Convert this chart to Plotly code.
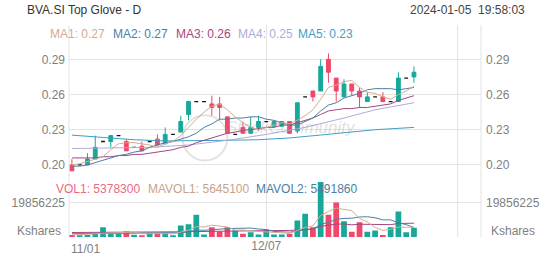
import plotly.graph_objects as go

# ---------------- data ----------------
dates = ["2023-11-01","2023-11-02","2023-11-03","2023-11-06","2023-11-07","2023-11-08","2023-11-09","2023-11-10",
         "2023-11-14","2023-11-15","2023-11-16","2023-11-17","2023-11-20","2023-11-21","2023-11-22","2023-11-23","2023-11-24",
         "2023-11-27","2023-11-28","2023-11-29","2023-11-30","2023-12-01","2023-12-04","2023-12-05","2023-12-06","2023-12-07",
         "2023-12-08","2023-12-11","2023-12-12","2023-12-13","2023-12-14","2023-12-15","2023-12-18","2023-12-19","2023-12-20",
         "2023-12-21","2023-12-22","2023-12-26","2023-12-27","2023-12-28","2023-12-29","2024-01-02","2024-01-03","2024-01-04","2024-01-05"]

opens  = [0.200,0.200,0.200,0.205,0.220,0.220,0.225,0.220,0.215,0.216,0.220,0.222,0.218,0.226,0.228,0.243,0.254,0.254,
          0.252,0.252,0.241,0.226,0.232,0.227,0.232,0.237,0.233,0.233,0.237,0.229,0.258,0.263,0.263,0.290,0.274,0.258,
          0.269,0.263,0.254,0.258,0.258,0.254,0.254,0.274,0.275]
highs  = [0.205,0.200,0.210,0.225,0.220,0.225,0.225,0.222,0.215,0.220,0.220,0.226,0.232,0.226,0.242,0.254,0.254,0.254,
          0.259,0.258,0.241,0.226,0.237,0.241,0.242,0.237,0.237,0.237,0.237,0.253,0.258,0.263,0.290,0.295,0.274,0.273,
          0.269,0.266,0.262,0.258,0.262,0.254,0.279,0.274,0.284]
lows   = [0.195,0.200,0.200,0.205,0.220,0.215,0.225,0.212,0.215,0.212,0.220,0.217,0.218,0.226,0.228,0.238,0.254,0.254,
          0.242,0.238,0.227,0.226,0.227,0.227,0.229,0.237,0.233,0.233,0.227,0.227,0.258,0.254,0.263,0.270,0.254,0.258,
          0.259,0.249,0.254,0.258,0.254,0.254,0.254,0.274,0.270]
closes = [0.195,0.200,0.205,0.215,0.220,0.225,0.225,0.212,0.215,0.212,0.220,0.217,0.226,0.226,0.237,0.254,0.254,0.254,
          0.249,0.249,0.227,0.226,0.227,0.232,0.237,0.237,0.237,0.237,0.227,0.253,0.258,0.258,0.284,0.279,0.263,0.269,
          0.263,0.258,0.258,0.258,0.254,0.254,0.274,0.274,0.279]

ma1 = [0.200,0.201,0.203,0.205,0.207,0.213,0.218,0.219,0.219,0.218,0.217,0.215,0.218,0.220,0.225,0.232,0.239,0.245,
       0.250,0.252,0.247,0.241,0.236,0.232,0.230,0.232,0.234,0.236,0.235,0.238,0.242,0.247,0.256,0.266,0.268,0.271,
       0.272,0.266,0.262,0.261,0.258,0.256,0.260,0.263,0.267]
ma2 = [0.199,0.199,0.200,0.202,0.204,0.206,0.208,0.209,0.211,0.212,0.215,0.217,0.219,0.220,0.222,0.224,0.227,0.232,
       0.235,0.239,0.239,0.240,0.240,0.241,0.241,0.239,0.238,0.236,0.234,0.234,0.237,0.240,0.246,0.251,0.253,0.257,
       0.259,0.261,0.264,0.265,0.265,0.265,0.264,0.265,0.266]
ma3 = [0.206,0.206,0.206,0.206,0.207,0.207,0.208,0.208,0.209,0.209,0.210,0.211,0.212,0.213,0.215,0.216,0.219,0.221,
       0.223,0.2255,0.227,0.228,0.2295,0.230,0.231,0.232,0.232,0.234,0.234,0.236,0.238,0.240,0.243,0.246,0.247,0.248,
       0.248,0.249,0.249,0.250,0.251,0.252,0.255,0.257,0.259]
ma4_dates = ["2023-11-01","2023-11-08","2023-11-16","2023-11-23","2023-11-30","2023-12-07","2023-12-14","2023-12-21","2023-12-28","2024-01-05"]
ma4 = [0.214,0.2145,0.215,0.217,0.221,0.226,0.232,0.240,0.247,0.253]
ma5_dates = ["2023-11-01","2023-11-07","2023-11-14","2023-11-20","2023-11-24","2023-11-30","2023-12-06","2023-12-12","2023-12-18","2023-12-22","2023-12-28","2024-01-05"]
ma5 = [0.2254,0.2235,0.2215,0.2205,0.2205,0.221,0.2215,0.223,0.2255,0.228,0.230,0.232]

volumes = [1.1,0.9,1.1,1.9,5.7,2.1,1.9,3.2,1.3,0.9,2.5,2.5,2.5,0.6,6.6,7.4,12.9,1.5,5.7,3.2,5.7,3.8,1.9,2.8,1.5,4.3,
           1.5,1.5,1.9,9.5,13.4,5.7,31.8,12.9,20.0,9.1,3.0,8.5,3.0,3.8,1.1,5.7,14.8,2.8,5.3783]  # millions of shares
mavol1 = [1.2,1.3,1.5,1.8,2.14,2.34,2.54,2.96,2.84,1.88,1.96,2.08,1.94,1.8,2.94,3.92,6.0,5.8,6.82,6.14,5.8,3.98,4.06,3.48,
          3.14,2.86,2.4,2.32,2.14,3.74,5.56,6.4,12.46,14.66,16.76,15.9,15.36,10.7,8.72,5.48,3.88,4.42,5.68,5.64,5.6451]
mavol2 = [1.9,1.9,1.9,2.0,2.0,2.0,2.0,2.0,2.0,2.01,2.15,2.31,2.45,2.32,2.41,2.94,4.04,3.87,4.31,4.54,4.86,4.99,4.93,5.15,
          4.64,4.33,3.19,3.19,2.81,3.44,4.21,4.4,7.39,8.4,10.25,10.73,10.88,11.58,11.69,11.12,9.89,9.89,8.19,7.18,5.49186]
mavol3 = [2.6,2.6,2.6,2.7,2.7,2.7,2.8,2.8,2.8,2.9,2.9,2.9,3.0,3.0,3.0,3.1,3.1,3.2,3.2,3.28,3.4,3.5,3.5,3.55,3.53,3.6,
          3.6,3.7,3.8,3.99,4.54,4.7,6.16,6.78,7.45,7.53,7.04,7.39,7.25,7.28,7.05,7.15,7.79,7.79,7.98]

x_ticks = ["2023-12-07"]
x_ticktext = ["12/07"]
price_ticks = [0.20, 0.23, 0.26, 0.29]
vol_tick = 19856225

# ---------------- styles ----------------
TEAL = "#17a89a"
RED = "#f0476a"
C_MA = ["#d6aa8c", "#4d7ea3", "#a4467f", "#acacdc", "#3e9ec6"]
GRID = "#e3e3e3"
AXC = "#808080"
FONT = "Arial, Liberation Sans, sans-serif"

W, H = 552, 265
L, R, T, B = 64, 488, 25, 241
def px(x):
    return (x - L) / (R - L)
def py(y):
    return (B - y) / (B - T)

VOL_SPLIT = py(180)
ppx = 1196.0
p_top = 0.20 + (167.6 - T) / ppx
p_bot = 0.20 - (180 - 167.6) / ppx
vpp = vol_tick / 35.0
v_top = (B - 180) * vpp

fig = go.Figure()

n = len(dates)
inc = [i for i in range(n) if closes[i] > opens[i]]
dec = [i for i in range(n) if closes[i] < opens[i]]
doj = [i for i in range(n) if closes[i] == opens[i]]

def sub(arr, idx):
    return [arr[i] for i in idx]

updn = sorted(inc + dec)
fig.add_trace(go.Candlestick(
    x=sub(dates, updn), open=sub(opens, updn), high=sub(highs, updn), low=sub(lows, updn), close=sub(closes, updn),
    increasing=dict(line=dict(color=TEAL, width=1), fillcolor=TEAL),
    decreasing=dict(line=dict(color=RED, width=1), fillcolor=RED),
    whiskerwidth=0, showlegend=False, hoverinfo="skip", xaxis="x", yaxis="y"))
fig.add_trace(go.Candlestick(
    x=sub(dates, doj), open=sub(opens, doj), high=sub(highs, doj), low=sub(lows, doj), close=sub(closes, doj),
    increasing=dict(line=dict(color="#111111", width=1.3), fillcolor="#111111"),
    decreasing=dict(line=dict(color="#111111", width=1.3), fillcolor="#111111"),
    whiskerwidth=0, showlegend=False, hoverinfo="skip", xaxis="x", yaxis="y"))

fig.add_trace(go.Scatter(x=ma5_dates, y=ma5, mode="lines", line=dict(color=C_MA[4], width=1), showlegend=False, yaxis="y"))
fig.add_trace(go.Scatter(x=ma4_dates, y=ma4, mode="lines", line=dict(color=C_MA[3], width=1), showlegend=False, yaxis="y"))
fig.add_trace(go.Scatter(x=dates, y=ma3, mode="lines", line=dict(color=C_MA[2], width=1), showlegend=False, yaxis="y"))
fig.add_trace(go.Scatter(x=dates, y=ma2, mode="lines", line=dict(color=C_MA[1], width=1), showlegend=False, yaxis="y"))
fig.add_trace(go.Scatter(x=dates, y=ma1, mode="lines", line=dict(color=C_MA[0], width=1), showlegend=False, yaxis="y"))

vol_colors = [TEAL if closes[i] >= opens[i] else RED for i in range(n)]
fig.add_trace(go.Bar(x=dates, y=[v * 1e6 for v in volumes], marker=dict(color=vol_colors, line=dict(width=0)),
                     width=0.74, showlegend=False, yaxis="y2"))
fig.add_trace(go.Scatter(x=dates, y=[v * 1e6 for v in mavol3], mode="lines", line=dict(color=C_MA[2], width=1), showlegend=False, yaxis="y2"))
fig.add_trace(go.Scatter(x=dates, y=[v * 1e6 for v in mavol2], mode="lines", line=dict(color=C_MA[1], width=1), showlegend=False, yaxis="y2"))
fig.add_trace(go.Scatter(x=dates, y=[v * 1e6 for v in mavol1], mode="lines", line=dict(color=C_MA[0], width=1), showlegend=False, yaxis="y2"))

tickfont = dict(family=FONT, size=12, color=AXC)
fig.update_layout(
    width=W, height=H, margin=dict(l=L, r=W - R, t=T, b=H - B),
    paper_bgcolor="white", plot_bgcolor="white",
    font=dict(family=FONT, size=12), showlegend=False, hovermode=False,
    bargap=0.25,
    xaxis=dict(type="category", categoryorder="array", categoryarray=dates, range=[-0.375, 52.625],
               tickmode="array", tickvals=x_ticks, ticktext=x_ticktext, showgrid=True, gridcolor=GRID, gridwidth=1,
               zeroline=False, showline=False, ticks="", tickfont=tickfont, anchor="y2",
               rangeslider=dict(visible=False)),
    yaxis=dict(domain=[VOL_SPLIT, 1], range=[p_bot, p_top], tickmode="array", tickvals=price_ticks,
               ticktext=["%.2f" % v for v in price_ticks], showgrid=True, gridcolor=GRID, gridwidth=1,
               zeroline=False, showline=False, ticks="", tickfont=tickfont, side="left", ticklabelstandoff=3),
    yaxis3=dict(overlaying="y", range=[p_bot, p_top], tickmode="array", tickvals=price_ticks,
                ticktext=["%.2f" % v for v in price_ticks], showgrid=False, zeroline=False, showline=False,
                ticks="", tickfont=tickfont, side="right", ticklabelstandoff=4),
    yaxis2=dict(domain=[0, VOL_SPLIT], range=[0, v_top], tickmode="array", tickvals=[0, vol_tick],
                ticktext=["", str(vol_tick)], showgrid=True, gridcolor=GRID, gridwidth=1, zeroline=False,
                showline=False, ticks="", tickfont=tickfont, side="left", ticklabelstandoff=3),
    yaxis4=dict(overlaying="y2", range=[0, v_top], tickmode="array", tickvals=[vol_tick],
                ticktext=[str(vol_tick)], showgrid=False, zeroline=False, showline=False, ticks="",
                tickfont=tickfont, side="right", ticklabelstandoff=4),
)
# empty traces to activate the right-hand axes
fig.add_trace(go.Scatter(x=[dates[0]], y=[None], yaxis="y3", showlegend=False))
fig.add_trace(go.Scatter(x=[dates[0]], y=[None], yaxis="y4", showlegend=False))

shapes = []
for xx in [px(64), px(488), px(464)]:
    shapes.append(dict(type="line", xref="paper", yref="paper", x0=xx, x1=xx, y0=0, y1=1,
                       line=dict(color=GRID, width=1)))
# watermark
shapes.append(dict(type="circle", xref="paper", yref="paper", x0=px(181), x1=px(227), y0=py(163), y1=py(117),
                   line=dict(color="rgba(150,150,150,0.28)", width=2)))
fig.update_layout(shapes=shapes)

ann = []
def text(x, y, s, color, size=12, anchor="left"):
    ann.append(dict(xref="paper", yref="paper", x=px(x), y=py(y), text=s, showarrow=False,
                    xanchor=anchor, yanchor="middle", font=dict(family=FONT, size=size, color=color)))

text(19, 10, "BVA.SI Top Glove - D", "#333333")
text(535, 10, "2024-01-05&nbsp;&nbsp;19:58:03", "#444444", anchor="right")
ma_last = [ma1[-1], ma2[-1], ma3[-1], ma4[-1], ma5[-1]]
ma_x = [42, 107, 172, 236, 298]
for i in range(5):
    text(ma_x[i], 34, "MA%d: %.2f" % (i + 1, ma_last[i]), C_MA[i])
text(49, 192, "VOL1: %d" % round(volumes[-1] * 1e6), "#ec6a80")
text(143, 192, "MAVOL1: %d" % round(mavol1[-1] * 1e6), "#c9a38a")
text(254, 192, "MAVOL2: %d" % round(mavol2[-1] * 1e6), "#4d7ea3")
text(58, 235, "Kshares", AXC, anchor="right")
text(496, 235, "Kshares", AXC, anchor="left")
text(64, 253, "11/01", AXC, anchor="left")
text(292, 129, "<i>StockCommunity</i>", "rgba(150,150,150,0.30)", size=17, anchor="center")
fig.update_layout(annotations=ann)

fig.write_html("out.html")
